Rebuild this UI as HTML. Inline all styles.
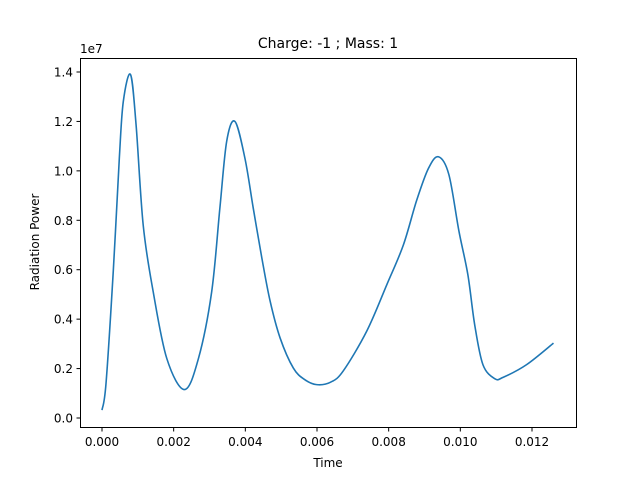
<!DOCTYPE html>
<html><head><meta charset="utf-8"><style>
body{margin:0;background:#fff}
svg{display:block;font-family:"DejaVu Sans","Liberation Sans",sans-serif}
</style></head><body>
<svg id="chart" width="640" height="480">
<rect width="640" height="480" fill="#fff"/>
<text x="328" y="48" font-size="14" text-anchor="middle">Charge: -1 ; Mass: 1</text>
<text x="80" y="53" font-size="12">1e7</text>
<text x="328" y="467" font-size="12" text-anchor="middle">Time</text>
<text transform="translate(39,242) rotate(-90)" font-size="12" text-anchor="middle">Radiation Power</text>
<g id="ticks"></g>
<path id="line" fill="none" stroke="#1f77b4" stroke-width="1.6" stroke-linejoin="round"/>
<rect x="80.5" y="58.5" width="496" height="369" fill="none" stroke="#000" stroke-width="1"/>
</svg>
<script>
const times=[0,0.000112,0.000315,0.000483,0.000594,0.000795,0.000949,0.00115,0.00143,0.00181,0.00230,0.00269,0.00306,0.00329,0.00348,0.00371,0.00399,0.00422,0.00446,0.00469,0.00497,0.00534,0.00566,0.00599,0.00638,0.00673,0.00739,0.00795,0.00841,0.00878,0.00911,0.00939,0.00968,0.00996,0.01021,0.01040,0.01063,0.01096,0.01120,0.01185,0.01260];
const power=[0.032,0.14,0.595,1.05,1.28,1.39,1.19,0.78,0.51,0.24,0.115,0.24,0.51,0.85,1.12,1.20,1.05,0.85,0.648,0.474,0.324,0.202,0.155,0.135,0.145,0.19,0.352,0.54,0.70,0.88,1.01,1.057,0.985,0.757,0.58,0.378,0.216,0.159,0.165,0.216,0.303];
const xTicks=[0,0.002,0.004,0.006,0.008,0.010,0.012];
const xTickLabels=["0.000","0.002","0.004","0.006","0.008","0.010","0.012"];
const yTicks=[0,0.2,0.4,0.6,0.8,1.0,1.2,1.4];
const yTickLabels=["0.0","0.2","0.4","0.6","0.8","1.0","1.2","1.4"];

const X=t=>102+t*35833;
const Y=v=>418-v*247.14;
const NS="http://www.w3.org/2000/svg";
const g=document.getElementById('ticks');
xTicks.forEach((t,i)=>{
  const l=document.createElementNS(NS,'line');
  l.setAttribute('x1',X(t));l.setAttribute('x2',X(t));l.setAttribute('y1',427.5);l.setAttribute('y2',431.5);l.setAttribute('stroke','#000');
  
  
  g.appendChild(l);
  const tx=document.createElementNS(NS,'text');
  tx.setAttribute('x',X(t));tx.setAttribute('y',446);tx.setAttribute('font-size','12');tx.setAttribute('text-anchor','middle');
  tx.textContent=xTickLabels[i];
  
  
  g.appendChild(tx);
});
yTicks.forEach((v,i)=>{
  const l=document.createElementNS(NS,'line');
  l.setAttribute('x1',76.5);l.setAttribute('x2',80.5);l.setAttribute('y1',Y(v));l.setAttribute('y2',Y(v));l.setAttribute('stroke','#000');
  
  
  g.appendChild(l);
  const tx=document.createElementNS(NS,'text');
  tx.setAttribute('x',73);tx.setAttribute('y',Y(v)+4.5);tx.setAttribute('font-size','12');tx.setAttribute('text-anchor','end');
  tx.textContent=yTickLabels[i];
  
  
  g.appendChild(tx);
});
const pts=times.map((t,i)=>[X(t),Y(power[i])]);
let d='M'+pts[0][0]+','+pts[0][1];
for(let i=0;i<pts.length-1;i++){
  const p0=pts[i-1]||pts[i],p1=pts[i],p2=pts[i+1],p3=pts[i+2]||p2;
  const c1=[p1[0]+(p2[0]-p0[0])/6,p1[1]+(p2[1]-p0[1])/6];
  const c2=[p2[0]-(p3[0]-p1[0])/6,p2[1]-(p3[1]-p1[1])/6];
  d+=`C${c1[0]},${c1[1]} ${c2[0]},${c2[1]} ${p2[0]},${p2[1]}`;
}
document.getElementById('line').setAttribute('d',d);
</script>
</body></html>
